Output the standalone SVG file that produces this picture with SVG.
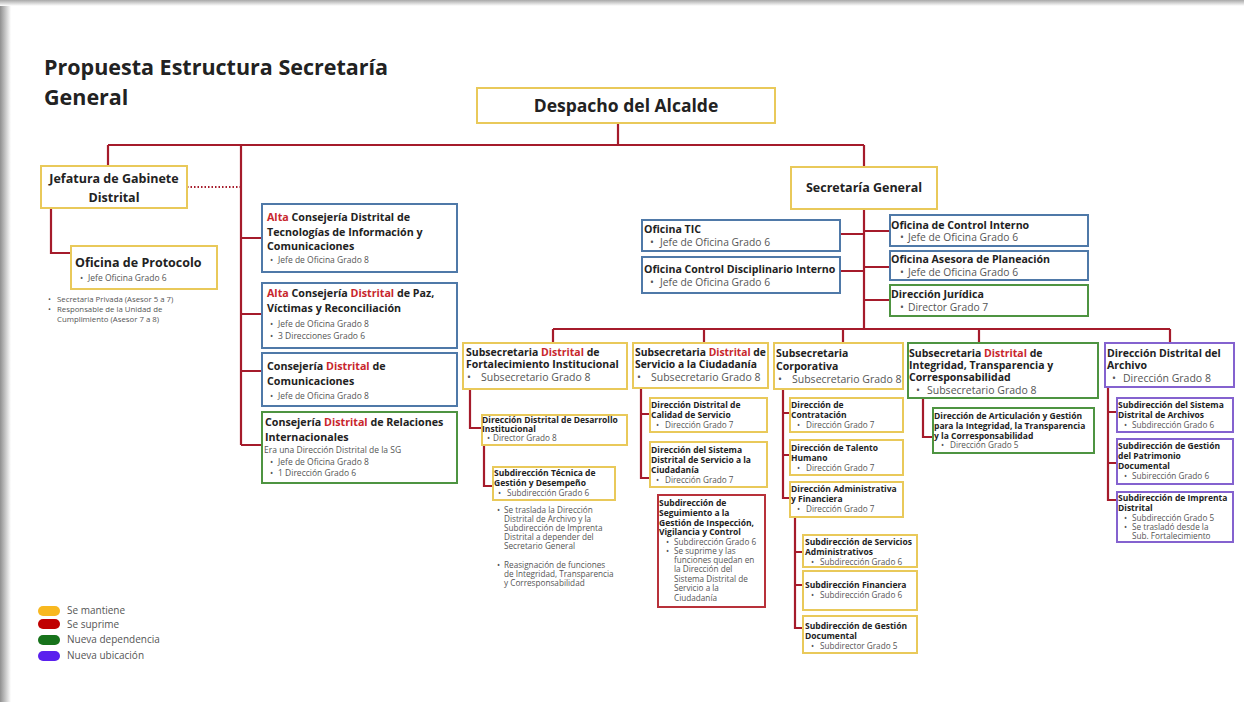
<svg xmlns="http://www.w3.org/2000/svg" width="1244" height="702" viewBox="0 0 1244 702">
<defs>
<linearGradient id="gl" x1="0" y1="0" x2="1" y2="0"><stop offset="0" stop-color="#8f8f8f"/><stop offset="1" stop-color="#ffffff"/></linearGradient>
<linearGradient id="gt" x1="0" y1="0" x2="0" y2="1"><stop offset="0" stop-color="#a8a8a8"/><stop offset="1" stop-color="#ffffff"/></linearGradient>
</defs>
<style>
.bx{fill:#fff;stroke-width:2}
.gold{stroke:#e9c95a}
.blue{stroke:#4f79a8}
.green{stroke:#4e9441}
.red{stroke:#b8313a}
.purple{stroke:#8462cf}
text{font-family:"Open Sans","Liberation Sans",sans-serif;fill:#222}
.h{font-weight:700}
.s{font-weight:400;fill:#555}
.r{fill:#c8262c}
.sm{font-size:8.5px}
.sb{font-size:8.2px}
.con{fill:none;stroke:#a51b2b;stroke-width:2.2}
</style>
<rect width="1244" height="702" fill="#fff"/>
<rect x="0" y="0" width="11" height="702" fill="url(#gl)"/>
<rect x="0" y="0" width="1244" height="6" fill="url(#gt)"/>

<text class="h" x="44" y="75" font-size="21.5">Propuesta Estructura Secretaría</text>
<text class="h" x="44" y="105" font-size="21.5">General</text>

<g id="connectors">
<path class="con" d="M618 123V145M108 145H864M108 145V166M241 145V445M241 238H262M241 314H262M241 371H262M241 445H262M864 145V167M51 208V253H71"/>
<path class="con" d="M187 187H241" stroke-dasharray="1.5 2" stroke-width="1.6"/>
<path class="con" d="M864 209V329M840 234H864M840 271H864M864 231H890M864 267H890M864 300H890M553 329H1170M553 329V343M704 329V343M843 329V343M979 329V343M1170 329V343"/>
<path class="con" d="M470 389V428H482M484 445V486H493M641 388V478H650M641 414H650M783 389V498H790M783 413H790M783 455H790M795 517V628H803M795 552H803M795 585H803M923 398V437H933M1108 387V500H1117M1108 412H1117M1108 463H1117"/>
</g>

<g id="despacho">
<rect class="bx gold" x="477" y="88" width="298" height="35"/>
<text class="h" x="626" y="112" font-size="17.5" text-anchor="middle">Despacho del Alcalde</text>
</g>

<g id="jefatura">
<rect class="bx gold" x="41" y="166" width="146" height="42"/>
<text class="h" x="114" y="183" font-size="12.5" text-anchor="middle">Jefatura de Gabinete</text>
<text class="h" x="114" y="202" font-size="12.5" text-anchor="middle">Distrital</text>
</g>

<g id="protocolo">
<rect class="bx gold" x="71" y="246" width="146" height="43"/>
<text class="h" x="75" y="267" font-size="12.5">Oficina de Protocolo</text>
<text class="s" x="80" y="281" font-size="8.5">•<tspan x="88">Jefe Oficina Grado 6</tspan></text>
</g>

<g id="notas-jefatura">
<text class="s" x="48" y="302" font-size="7.8">•<tspan x="57">Secretaria Privada (Asesor 5 a 7)</tspan></text>
<text class="s" x="48" y="312" font-size="7.8">•<tspan x="57">Responsable de la Unidad de</tspan></text>
<text class="s" x="57" y="322" font-size="7.8">Cumplimiento (Asesor 7 a 8)</text>
</g>

<g id="alta-tic">
<rect class="bx blue" x="262" y="204" width="195" height="68"/>
<text class="h" x="267" y="221" font-size="10.7"><tspan class="r">Alta</tspan> Consejería Distrital de</text>
<text class="h" x="267" y="236" font-size="10.7">Tecnologías de Información y</text>
<text class="h" x="267" y="250" font-size="10.7">Comunicaciones</text>
<text class="s" x="270" y="263" font-size="8.5">•<tspan x="278">Jefe de Oficina Grado 8</tspan></text>
</g>

<g id="alta-paz">
<rect class="bx blue" x="262" y="283" width="195" height="65"/>
<text class="h" x="267" y="297" font-size="10.7"><tspan class="r">Alta</tspan> Consejería <tspan class="r">Distrital</tspan> de Paz,</text>
<text class="h" x="267" y="312" font-size="10.7">Víctimas y Reconciliación</text>
<text class="s" x="270" y="327" font-size="8.5">•<tspan x="278">Jefe de Oficina Grado 8</tspan></text>
<text class="s" x="270" y="339" font-size="8.5">•<tspan x="278">3 Direcciones Grado 6</tspan></text>
</g>

<g id="consejeria-comunicaciones">
<rect class="bx blue" x="262" y="353" width="195" height="53"/>
<text class="h" x="267" y="370" font-size="10.7">Consejería <tspan class="r">Distrital</tspan> de</text>
<text class="h" x="267" y="385" font-size="10.7">Comunicaciones</text>
<text class="s" x="270" y="399" font-size="8.5">•<tspan x="278">Jefe de Oficina Grado 8</tspan></text>
</g>

<g id="consejeria-relaciones">
<rect class="bx green" x="262" y="412" width="195" height="71"/>
<text class="h" x="265" y="426" font-size="10.7">Consejería <tspan class="r">Distrital</tspan> de Relaciones</text>
<text class="h" x="265" y="441" font-size="10.7">Internacionales</text>
<text class="s" x="264" y="453" font-size="8.5">Era una Dirección Distrital de la SG</text>
<text class="s" x="270" y="465" font-size="8.5">•<tspan x="278">Jefe de Oficina Grado 8</tspan></text>
<text class="s" x="270" y="476" font-size="8.5">•<tspan x="278">1 Dirección Grado 6</tspan></text>
</g>

<g id="secretaria-general">
<rect class="bx gold" x="791" y="167" width="146" height="42"/>
<text class="h" x="864" y="192" font-size="12.5" text-anchor="middle">Secretaría General</text>
</g>

<g id="oficina-tic">
<rect class="bx blue" x="642" y="220" width="198" height="31"/>
<text class="h" x="644" y="233" font-size="10.6">Oficina TIC</text>
<text class="s" x="650" y="246" font-size="10.3">•<tspan x="660">Jefe de Oficina Grado 6</tspan></text>
</g>

<g id="oficina-disciplinario">
<rect class="bx blue" x="642" y="257" width="198" height="36"/>
<text class="h" x="644" y="273" font-size="10.6">Oficina Control Disciplinario Interno</text>
<text class="s" x="650" y="286" font-size="10.3">•<tspan x="660">Jefe de Oficina Grado 6</tspan></text>
</g>

<g id="control-interno">
<rect class="bx blue" x="890" y="215" width="198" height="31"/>
<text class="h" x="891" y="229" font-size="10.6">Oficina de Control Interno</text>
<text class="s" x="900" y="241" font-size="10.3">•<tspan x="908">Jefe de Oficina Grado 6</tspan></text>
</g>

<g id="planeacion">
<rect class="bx blue" x="890" y="251" width="198" height="29"/>
<text class="h" x="891" y="263" font-size="10.6">Oficina Asesora de Planeación</text>
<text class="s" x="900" y="276" font-size="10.3">•<tspan x="908">Jefe de Oficina Grado 6</tspan></text>
</g>

<g id="juridica">
<rect class="bx green" x="890" y="285" width="198" height="31"/>
<text class="h" x="891" y="298" font-size="10.6">Dirección Jurídica</text>
<text class="s" x="900" y="311" font-size="10.3">•<tspan x="908">Director Grado 7</tspan></text>
</g>

<g id="subsec-fortalecimiento">
<rect class="bx gold" x="463" y="343" width="164" height="46"/>
<text class="h" x="466" y="356" font-size="10.5">Subsecretaria <tspan class="r">Distrital</tspan> de</text>
<text class="h" x="466" y="368" font-size="10.5">Fortalecimiento Institucional</text>
<text class="s" x="467" y="381" font-size="10.5">•<tspan x="481">Subsecretario Grado 8</tspan></text>
</g>

<g id="dir-desarrollo">
<rect class="bx gold" x="482" y="415" width="145" height="30"/>
<text class="h sm" x="482" y="423">Dirección Distrital de Desarrollo</text>
<text class="h sm" x="482" y="432">Institucional</text>
<text class="s sb" x="487" y="441">•<tspan x="493">Director Grado 8</tspan></text>
</g>

<g id="sub-tecnica">
<rect class="bx gold" x="493" y="467" width="122" height="33"/>
<text class="h sm" x="494" y="476">Subdirección Técnica de</text>
<text class="h sm" x="494" y="486">Gestión y Desempeño</text>
<text class="s sb" x="498" y="496">•<tspan x="507">Subdirección Grado 6</tspan></text>
</g>

<g id="notas-fortalecimiento">
<text class="s" x="497" y="513" font-size="8.2">•<tspan x="504">Se traslada la Dirección</tspan></text>
<text class="s" x="504" y="522" font-size="8.2">Distrital de Archivo y la</text>
<text class="s" x="504" y="531" font-size="8.2">Subdirección de Imprenta</text>
<text class="s" x="504" y="540" font-size="8.2">Distrital a depender del</text>
<text class="s" x="504" y="549" font-size="8.2">Secretario General</text>
<text class="s" x="497" y="568" font-size="8.2">•<tspan x="504">Reasignación de funciones</tspan></text>
<text class="s" x="504" y="577" font-size="8.2">de Integridad, Transparencia</text>
<text class="s" x="504" y="586" font-size="8.2">y Corresponsabilidad</text>
</g>

<g id="subsec-servicio">
<rect class="bx gold" x="633" y="343" width="135" height="45"/>
<text class="h" x="635" y="356" font-size="10.3">Subsecretaria <tspan class="r">Distrital</tspan> de</text>
<text class="h" x="635" y="368" font-size="10.3">Servicio a la Ciudadanía</text>
<text class="s" x="637" y="381" font-size="10.5">•<tspan x="651">Subsecretario Grado 8</tspan></text>
</g>

<g id="dir-calidad">
<rect class="bx gold" x="650" y="398" width="117" height="34"/>
<text class="h sm" x="651" y="408">Dirección Distrital de</text>
<text class="h sm" x="651" y="418">Calidad de Servicio</text>
<text class="s sb" x="656" y="428">•<tspan x="665">Dirección Grado 7</tspan></text>
</g>

<g id="dir-sistema">
<rect class="bx gold" x="650" y="442" width="117" height="45"/>
<text class="h sm" x="651" y="453">Dirección del Sistema</text>
<text class="h sm" x="651" y="463">Distrital de Servicio a la</text>
<text class="h sm" x="651" y="473">Ciudadanía</text>
<text class="s sb" x="656" y="483">•<tspan x="665">Dirección Grado 7</tspan></text>
</g>

<g id="sub-seguimiento">
<rect class="bx red" x="658" y="495" width="107" height="112"/>
<text class="h sm" x="659" y="506">Subdirección de</text>
<text class="h sm" x="659" y="516">Seguimiento a la</text>
<text class="h sm" x="659" y="526">Gestión de Inspección,</text>
<text class="h sm" x="659" y="535">Vigilancia y Control</text>
<text class="s sb" x="666" y="545">•<tspan x="674">Subdirección Grado 6</tspan></text>
<text class="s sb" x="666" y="554">•<tspan x="674">Se suprime y las</tspan></text>
<text class="s sb" x="674" y="563">funciones quedan en</text>
<text class="s sb" x="674" y="572">la Dirección del</text>
<text class="s sb" x="674" y="582">Sistema Distrital de</text>
<text class="s sb" x="674" y="591">Servicio a la</text>
<text class="s sb" x="674" y="601">Ciudadanía</text>
</g>

<g id="subsec-corporativa">
<rect class="bx gold" x="774" y="343" width="129" height="46"/>
<text class="h" x="776" y="357" font-size="10.5">Subsecretaria</text>
<text class="h" x="776" y="370" font-size="10.5">Corporativa</text>
<text class="s" x="778" y="383" font-size="10.5">•<tspan x="792">Subsecretario Grado 8</tspan></text>
</g>

<g id="dir-contratacion">
<rect class="bx gold" x="790" y="398" width="113" height="34"/>
<text class="h sm" x="791" y="408">Dirección de</text>
<text class="h sm" x="791" y="418">Contratación</text>
<text class="s sb" x="797" y="428">•<tspan x="806">Dirección Grado 7</tspan></text>
</g>

<g id="dir-talento">
<rect class="bx gold" x="790" y="440" width="113" height="35"/>
<text class="h sm" x="791" y="451">Dirección de Talento</text>
<text class="h sm" x="791" y="461">Humano</text>
<text class="s sb" x="797" y="471">•<tspan x="806">Dirección Grado 7</tspan></text>
</g>

<g id="dir-administrativa">
<rect class="bx gold" x="790" y="482" width="113" height="35"/>
<text class="h sm" x="791" y="492">Dirección Administrativa</text>
<text class="h sm" x="791" y="502">y Financiera</text>
<text class="s sb" x="797" y="512">•<tspan x="806">Dirección Grado 7</tspan></text>
</g>

<g id="sub-servicios">
<rect class="bx gold" x="803" y="535" width="114" height="32"/>
<text class="h sm" x="805" y="545">Subdirección de Servicios</text>
<text class="h sm" x="805" y="555">Administrativos</text>
<text class="s sb" x="811" y="565">•<tspan x="820">Subdirección Grado 6</tspan></text>
</g>

<g id="sub-financiera">
<rect class="bx gold" x="803" y="571" width="114" height="39"/>
<text class="h sm" x="805" y="588">Subdirección Financiera</text>
<text class="s sb" x="811" y="598">•<tspan x="820">Subdirección Grado 6</tspan></text>
</g>

<g id="sub-documental">
<rect class="bx gold" x="803" y="616" width="114" height="37"/>
<text class="h sm" x="805" y="629">Subdirección de Gestión</text>
<text class="h sm" x="805" y="639">Documental</text>
<text class="s sb" x="811" y="649">•<tspan x="820">Subdirector Grado 5</tspan></text>
</g>

<g id="subsec-integridad">
<rect class="bx green" x="908" y="343" width="190" height="55"/>
<text class="h" x="909" y="357" font-size="10.5">Subsecretaria <tspan class="r">Distrital</tspan> de</text>
<text class="h" x="909" y="369" font-size="10.5">Integridad, Transparencia y</text>
<text class="h" x="909" y="381" font-size="10.5">Corresponsabilidad</text>
<text class="s" x="916" y="394" font-size="10.5">•<tspan x="927">Subsecretario Grado 8</tspan></text>
</g>

<g id="dir-articulacion">
<rect class="bx green" x="933" y="408" width="161" height="45"/>
<text class="h sm" x="934" y="419">Dirección de Articulación y Gestión</text>
<text class="h sm" x="934" y="429">para la Integridad, la Transparencia</text>
<text class="h sm" x="934" y="439">y la Corresponsabilidad</text>
<text class="s sb" x="941" y="448">•<tspan x="950">Dirección Grado 5</tspan></text>
</g>

<g id="dir-archivo">
<rect class="bx purple" x="1105" y="343" width="129" height="44"/>
<text class="h" x="1107" y="357" font-size="10.5">Dirección Distrital del</text>
<text class="h" x="1107" y="369" font-size="10.5">Archivo</text>
<text class="s" x="1112" y="382" font-size="10.5">•<tspan x="1123">Dirección Grado 8</tspan></text>
</g>

<g id="sub-sistema-archivos">
<rect class="bx purple" x="1117" y="398" width="116" height="34"/>
<text class="h sm" x="1118" y="408">Subdirección del Sistema</text>
<text class="h sm" x="1118" y="418">Distrital de Archivos</text>
<text class="s sb" x="1124" y="428">•<tspan x="1132">Subdirección Grado 6</tspan></text>
</g>

<g id="sub-patrimonio">
<rect class="bx purple" x="1117" y="439" width="116" height="45"/>
<text class="h sm" x="1118" y="449">Subdirección de Gestión</text>
<text class="h sm" x="1118" y="459">del Patrimonio</text>
<text class="h sm" x="1118" y="469">Documental</text>
<text class="s sb" x="1124" y="479">•<tspan x="1132">Subirección Grado 6</tspan></text>
</g>

<g id="sub-imprenta">
<rect class="bx purple" x="1117" y="492" width="116" height="50"/>
<text class="h sm" x="1118" y="501">Subdirección de Imprenta</text>
<text class="h sm" x="1118" y="511">Distrital</text>
<text class="s sb" x="1124" y="521">•<tspan x="1132">Subdirección Grado 5</tspan></text>
<text class="s sb" x="1124" y="530">•<tspan x="1132">Se trasladó desde la</tspan></text>
<text class="s sb" x="1132" y="539">Sub. Fortalecimiento</text>
</g>

<g id="leyenda">
<rect x="38" y="606" width="22" height="10" rx="5" fill="#f8b820"/>
<rect x="38" y="619" width="22" height="10" rx="5" fill="#c00000"/>
<rect x="38" y="635" width="22" height="10" rx="5" fill="#17731b"/>
<rect x="38" y="651" width="22" height="10" rx="5" fill="#5a20ee"/>
<text class="s" x="67" y="614" font-size="10">Se mantiene</text>
<text class="s" x="67" y="628" font-size="10">Se suprime</text>
<text class="s" x="67" y="643" font-size="10">Nueva dependencia</text>
<text class="s" x="67" y="659" font-size="10">Nueva ubicación</text>
</g>
</svg>
